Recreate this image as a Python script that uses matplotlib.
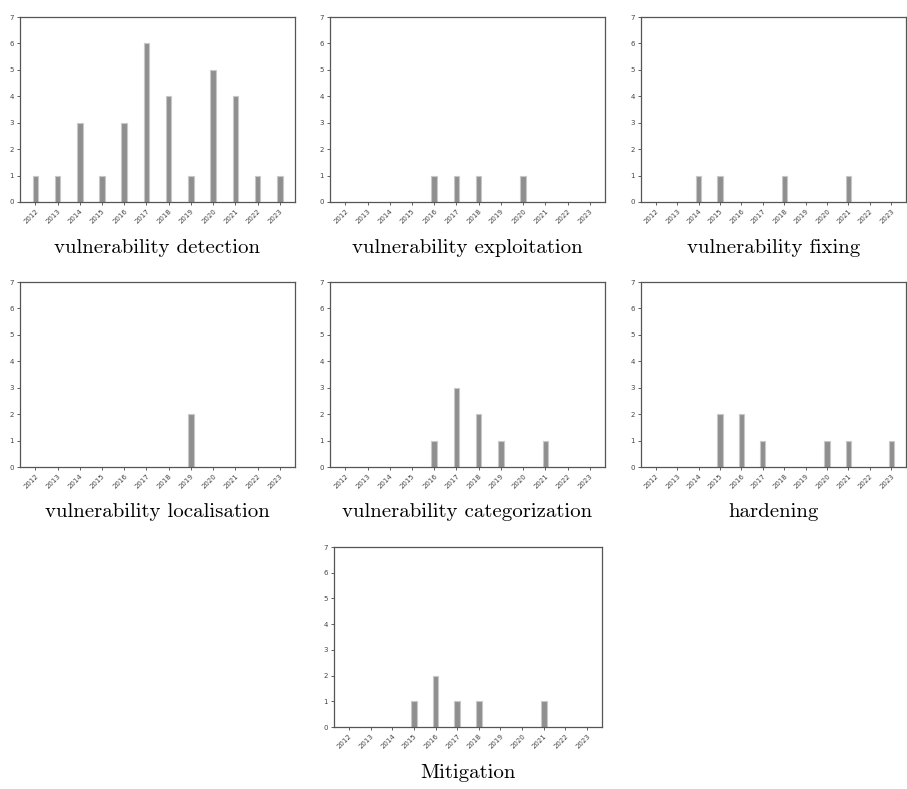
import matplotlib
matplotlib.use("Agg")
import matplotlib.pyplot as plt
import numpy as np

years = [str(y) for y in range(2012, 2024)]

detection = [1, 1, 3, 1, 3, 6, 4, 1, 5, 4, 1, 1]
exploitation = [0, 0, 0, 0, 1, 1, 1, 0, 1, 0, 0, 0]
fixing = [0, 0, 1, 1, 0, 0, 1, 0, 0, 1, 0, 0]
localisation = [0, 0, 0, 0, 0, 0, 0, 2, 0, 0, 0, 0]
categorization = [0, 0, 0, 0, 1, 3, 2, 1, 0, 1, 0, 0]
hardening = [0, 0, 0, 2, 2, 1, 0, 0, 1, 1, 0, 1]
mitigation = [0, 0, 0, 1, 2, 1, 1, 0, 0, 1, 0, 0]

titles = ["vulnerability detection", "vulnerability exploitation", "vulnerability fixing",
          "vulnerability localisation", "vulnerability categorization", "hardening",
          "Mitigation"]
series = [detection, exploitation, fixing, localisation, categorization, hardening, mitigation]

W, H = 907, 789
# axes boxes in pixels: left, top, right, bottom
boxes = [
    (20, 17, 295, 202), (330, 17, 605, 202), (641, 17, 906, 202),
    (20, 282, 295, 467), (330, 282, 605, 467), (641, 282, 906, 467),
    (334, 547, 602, 727),
]
title_y = [248, 248, 248, 512, 512, 512, 773]

fig = plt.figure(figsize=(W / 100, H / 100), dpi=100)

for vals, title, (l, t, r, b), ty in zip(series, titles, boxes, title_y):
    ax = fig.add_axes([l / W, 1 - b / H, (r - l) / W, (b - t) / H])
    x = np.arange(len(years))
    ax.bar(x, vals, width=0.25, color="#8f8f8f", edgecolor="#c8c8c8", linewidth=0.8)
    ax.set_ylim(0, 7)
    ax.set_yticks(range(0, 8))
    ax.set_xticks(x)
    ax.set_xticklabels(years, rotation=45, ha="right", rotation_mode="anchor")
    ax.tick_params(labelsize=5, length=2.5, width=0.6, colors="#444444", pad=2)
    for s in ax.spines.values():
        s.set_color("#555555")
        s.set_linewidth(0.9)
    fig.text((l + r) / 2 / W, 1 - ty / H, title, ha="center", va="center",
             fontsize=15, family="cmr10")

fig.savefig("out.png", dpi=100)
